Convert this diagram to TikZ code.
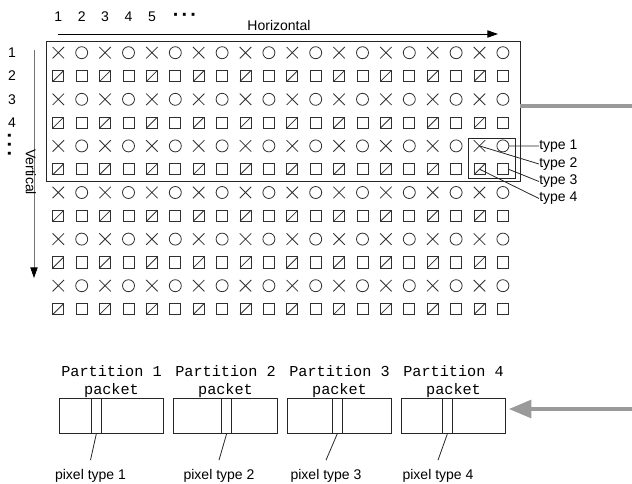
\documentclass[tikz,border=0pt]{standalone}
\usepackage{fontspec}
\setmainfont{Liberation Sans}
\setmonofont{Liberation Mono}
\usepackage{tikz}
\usetikzlibrary{arrows.meta, positioning, shapes.misc}
\definecolor{inkgray}{HTML}{303030}
\definecolor{flowgray}{HTML}{9A9A9A}
\newcommand{\bigdots}{{\fontsize{15}{15}\selectfont\bfseries ·\hspace{1.6pt}·\hspace{1.6pt}·}}

\begin{document}
\begin{tikzpicture}[
  x=0.75pt, y=-0.75pt,
  sym/.style={draw=inkgray, line width=0.6pt, inner sep=0pt, outer sep=0pt},
  xsym/.style={sym, cross out, minimum size=8.6pt},
  osym/.style={sym, circle, minimum size=9pt},
  ssym/.style={sym, rectangle, minimum size=8.3pt},
  dsym/.style={ssym, path picture={\draw[inkgray, line width=0.6pt] (path picture bounding box.south west) -- (path picture bounding box.north east);}},
  lbl/.style={font=\fontsize{10.5}{12}\selectfont, inner sep=0pt},
  plbl/.style={font=\ttfamily\fontsize{11.4}{13.3}\selectfont, align=center, inner sep=0pt},
  frm/.style={draw=black!85, line width=0.7pt, inner sep=0pt},
  pkbox/.style={frm, minimum width=78pt, minimum height=26.25pt},
  strip/.style={frm, minimum width=7.2pt, minimum height=26.25pt},
  lead/.style={line width=0.6pt, color=black!85},
  axarr/.style={-{Triangle[length=8pt, width=5.5pt, color=black]}, line width=0.7pt},
  flow/.style={line width=3.4pt, color=flowgray},
  flowarr/.style={flow, -{Triangle[length=17pt, width=13pt]}, shorten >=2pt},
]
\useasboundingbox (0,0) rectangle (632,483);

% pixel grid
\foreach \r in {1,...,12}{
  \foreach \c in {1,...,20}{
    \pgfmathsetmacro\px{58.3+(\c-1)*23.4}
    \pgfmathsetmacro\py{52.7+(\r-1)*23.3}
    \pgfmathtruncatemacro\k{mod(\r,2)*2+mod(\c,2)}
    \ifcase\k \def\st{ssym}\or\def\st{dsym}\or\def\st{osym}\or\def\st{xsym}\fi
    \node[\st] (p-\r-\c) at (\px,\py) {};
  }
}
\node[frm, minimum width=355.5pt, minimum height=105pt] (frame) at (283,111) {};
\node[frm, minimum width=35.25pt, minimum height=30pt] (blk) at (491.5,158) {};

% axes
\foreach \c in {1,...,5}
  \node[lbl] (cn-\c) at ({58.3+(\c-1)*23.4},17) {\c};
\node[inner sep=0pt] (cdots) at (185,17) {\bigdots};
\foreach \r in {1,...,4}
  \node[lbl] (rn-\r) at (12,{52.7+(\r-1)*23.3}) {\r};
\node[inner sep=0pt, rotate=90] (rdots) at (12,144) {\bigdots};

\coordinate (h0) at (58,34);
\coordinate (h1) at (498,34);
\draw[axarr] (h0) -- (h1);
\node[lbl] (hlab) at (279,25) {Horizontal};
\coordinate (v0) at (34,50);
\coordinate (v1) at (34,278);
\draw[axarr, color=black!55] (v0) -- (v1);
\node[lbl, rotate=-90] (vlab) at (31,172) {Vertical};

% pixel types
\node[lbl, anchor=west] (t1) at (539,146) {type 1};
\node[lbl, anchor=west] (t2) at (539,164) {type 2};
\node[lbl, anchor=west] (t3) at (539,181.5) {type 3};
\node[lbl, anchor=west] (t4) at (539,198.5) {type 4};
\draw[lead] (p-5-20.east) -- (t1.west);
\draw[lead] (p-5-19.center) -- (t2.west);
\draw[lead] (p-6-20.east) -- (t3.west);
\draw[lead] (p-6-19.center) -- (t4.west);

\coordinate (src1) at (632,106);
\draw[flow] (frame.east |- src1) -- (src1);

% partition packets
\node[pkbox] (pk1) at (111.5,415.5) {};
\node[pkbox] (pk2) at (225.5,415.5) {};
\node[pkbox] (pk3) at (339.5,415.5) {};
\node[pkbox] (pk4) at (453.5,415.5) {};
\node[strip] (st1) at (96.4,415.5) {};
\node[strip] (st2) at (226.7,415.5) {};
\node[strip] (st3) at (337.4,415.5) {};
\node[strip] (st4) at (447.5,415.5) {};
\foreach \i in {1,...,4}
  \node[plbl, above=0pt of pk\i] (pt\i) {Partition \i\\packet};

\node[lbl, outer sep=7pt] (px1) at (90.5,476) {pixel type 1};
\node[lbl, outer sep=7pt] (px2) at (219,476) {pixel type 2};
\node[lbl, outer sep=7pt] (px3) at (326,476) {pixel type 3};
\node[lbl, outer sep=7pt] (px4) at (438,476) {pixel type 4};
\foreach \i in {1,...,4}
  \draw[lead] (st\i.south) -- (px\i.north);

\coordinate (src2) at (632,409);
\draw[flowarr] (src2) -- (src2 -| pk4.east);
\end{tikzpicture}
\end{document}
